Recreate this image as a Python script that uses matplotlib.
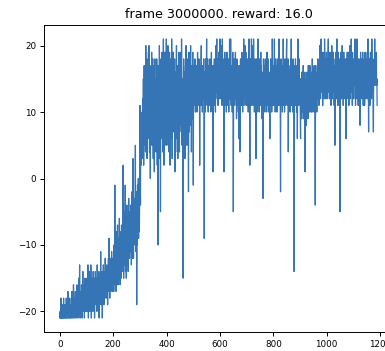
import numpy as np
import matplotlib
matplotlib.use('Agg')
import matplotlib.pyplot as plt

# episode rewards in blocks of 100 episodes
rewards_0 = [
    -21, -20, -21, -21, -18, -21, -19, -21, -20, -21, -21, -19, -20, -21, -18, -21, -21, -20, -19, -21,
    -20, -21, -19, -21, -18, -20, -21, -21, -19, -20, -17, -21, -20, -19, -21, -20, -18, -21, -19, -20,
    -21, -19, -20, -18, -21, -17, -20, -19, -21, -18, -20, -16, -19, -21, -20, -18, -19, -21, -17, -20,
    -19, -18, -21, -20, -16, -19, -18, -20, -21, -17, -19, -15, -20, -18, -13, -19, -21, -18, -17, -20,
    -19, -16, -18, -21, -17, -19, -14, -18, -20, -16, -19, -17, -21, -18, -15, -19, -20, -17, -18, -16]
rewards_100 = [
    -18, -20, -15, -19, -17, -13, -18, -21, -16, -19, -17, -14, -20, -18, -16, -19, -13, -17, -21, -18,
    -15, -19, -17, -16, -20, -14, -18, -17, -19, -15, -21, -16, -18, -14, -17, -19, -15, -18, -16, -20,
    -13, -17, -19, -15, -16, -18, -14, -21, -17, -15, -19, -16, -18, -11, -17, -15, -19, -16, -14, -21,
    -18, -15, -17, -13, -16, -19, -14, -17, -15, -18, -12, -16, -17, -14, -18, -15, -13, -17, -16, -19,
    -14, -15, -12, -17, -9, -16, -14, -18, -13, -15, -17, -12, -14, -16, -11, -15, -17, -13, -14, -12]
rewards_200 = [
    -15, -12, -17, -10, -14, -13, -1, -11, -16, -9, -13, -17, -8, -12, -15, -10, -7, -13, -16, -11,
    -9, -14, -12, -6, -15, -10, -16, -8, -12, -11, -15, -7, -10, -13, -9, -14, -6, 2, -11, -15,
    -8, -10, -5, -13, -9, -1, -14, -7, -11, -15, -8, -4, -10, -13, -6, -9, -14, -7, -3, -12,
    -8, -12, -5, -9, -11, -4, -10, -7, -13, -6, -2, -9, -12, -5, 3, -8, -12, -4, -7, -10,
    -3, -9, -6, 5, -11, -4, -8, -2, -19, -6, -10, -1, -5, -7, 0, -9, -3, -4, -8, -2]
rewards_300 = [
    11, 5, -4, 6, 2, 9, 7, 4, 10, 3, 12, 6, 9, 15, 2, 11, 17, 5, 12, 8,
    15, 4, 20, 13, 7, 12, 18, 3, 16, 10, 6, 13, 19, 8, 20, 12, 4, 14, 11, 0,
    13, 7, 17, 12, 19, 5, 9, 16, 18, 8, 3, 10, 14, 17, 1, 13, 18, 6, 10, 15,
    4, 15, 9, 18, 13, 2, 12, 17, -10, 11, 14, 5, 9, 20, 13, 3, 12, -5, 11, 18,
    13, 6, 14, 19, 17, 4, 8, 13, 21, 10, 2, 16, 11, 19, 5, 13, 12, 19, 7, 21]
rewards_400 = [
    13, 5, 18, 8, 14, 20, 6, 12, 17, 4, 14, 19, 10, 2, 15, 6, 18, 13, 9, 21,
    12, 3, 15, 8, 16, 19, 7, 14, 9, 13, 18, 1, 11, 16, 4, 12, 15, 20, 13, 6,
    14, 17, 3, 16, 12, 9, 19, 13, 4, 14, 17, 8, 10, 19, 14, 7, 21, 11, 5, 15,
    14, 8, -15, 13, 18, 11, 6, 16, 12, 3, 13, 17, 9, 20, 11, 15, 5, 12, 18, 8,
    16, 13, -2, 12, 19, 7, 15, 18, 8, 12, 20, 10, 14, 4, 17, 11, 15, 9, 19, 13]
rewards_500 = [
    -1, 13, 17, 12, 16, 11, 18, 14, 10, 15, 13, 17, 12, 16, 10, 15, 19, 13, 11, 16,
    14, 18, 12, 15, 2, 13, 17, 11, 15, 18, 20, 14, 11, 16, 10, 13, 17, 12, 15, 18,
    14, -9, 12, 16, 13, 10, 18, 15, 12, 17, 21, 14, 11, 16, 18, 13, 10, 15, 17, 12,
    15, 11, 18, 14, 16, 12, 10, 15, 19, 13, 11, 17, 14, 16, 1, 13, 17, 11, 15, 18,
    12, 16, 14, 10, 15, 20, 13, 17, 21, 15, 12, 18, 14, 11, 16, 19, 13, 17, 12, 16]
rewards_600 = [
    21, 14, 18, 12, 16, 20, 13, 15, 11, 21, 16, 12, 18, 14, 10, 1, 16, 13, 19, 15,
    11, 17, 13, 18, 10, 15, 19, 12, 16, 11, 14, 18, 13, 10, 16, 15, 21, 12, 17, 13,
    21, 15, 11, 17, 13, 16, 10, 15, 19, 13, -5, 12, 17, 14, 18, 11, 13, 16, 19, 14,
    12, 16, 9, 14, 18, 15, 11, 17, 13, 10, 15, 6, 13, 17, 11, 4, 15, 18, 12, 16,
    11, 14, 19, 13, 17, 10, 15, 18, 12, 21, 16, 11, 14, 18, 20, 13, 16, 19, 11, 15]
rewards_700 = [
    13, 17, 11, 18, 15, 12, 10, 16, 14, 21, 13, 11, 2, 15, 18, 12, 16, 11, 21, 15,
    17, 12, 18, 20, 11, 15, 21, 13, 17, 10, 14, 18, 12, 16, 11, 3, 15, 18, 13, 10,
    16, 14, 11, 21, 13, 17, 15, 10, 18, 13, 16, 11, 15, 19, 12, 17, 9, 15, 13, 11,
    16, -3, 13, 18, 15, 11, 17, 14, 10, 15, 18, 13, 16, 11, 15, 10, 19, 13, 17, 14,
    11, 18, 13, 10, 16, 15, 12, 6, 15, 13, 18, 11, 16, 14, 10, 13, 21, 15, 11, 17]
rewards_800 = [
    13, 17, 11, 15, 21, 13, 16, 10, 15, 18, 13, 11, 17, 15, 10, 14, 18, 15, 11, 16,
    13, 21, 15, 11, 17, 13, 10, -2, 15, 18, 12, 16, 11, 15, 10, 17, 13, 21, 15, 11,
    16, 13, 10, 15, 18, 12, 17, 11, 15, 19, 21, 13, 16, 14, 11, 18, 4, 13, 17, 15,
    11, 16, 13, 10, 15, 18, 12, 21, 15, 11, 17, 13, 15, 10, 18, 13, 16, 14, -14, 12,
    17, 15, 13, 18, 11, 16, 14, 10, 13, 17, 6, 15, 21, 13, 16, 11, 15, 18, 12, 15]
rewards_900 = [
    14, 10, 6, 15, 12, 14, 9, 16, 12, 15, 10, 14, 17, 9, 15, 12, 14, 10, 16, 1,
    12, 15, 10, 14, 8, 16, 12, 10, 15, 13, 9, 17, 12, 15, 10, 14, 12, 17, 10, 15,
    12, 16, 14, 10, 15, 12, 18, 13, 10, 15, 16, 12, 14, 17, 10, 16, 12, -4, 14, 17,
    12, 15, 13, 10, 16, 15, 12, 18, 13, 16, 14, 11, 17, 13, 20, 15, 16, 12, 18, 21,
    15, 18, 13, 16, 14, 11, 19, 16, 13, 18, 15, 12, 21, 16, 14, 18, 12, 16, 14, 19]
rewards_1000 = [
    15, 18, 12, 16, 14, 19, 21, 16, 13, 18, 12, 16, 19, 14, 17, 15, 11, 18, 14, 20,
    16, 12, 18, 15, 13, 19, 14, 17, 11, 16, 15, 5, 18, 15, 13, 19, 12, 17, 21, 16,
    14, 18, 11, 16, 19, 13, 17, 15, 11, 18, -5, 16, 13, 19, 12, 17, 15, 12, 20, 16,
    14, 18, 11, 16, 19, 13, 17, 15, 12, 14, 18, 16, 6, 14, 18, 16, 12, 19, 14, 17,
    16, 13, 19, 11, 17, 16, 13, 20, 15, 12, 18, 14, 21, 16, 13, 19, 11, 17, 15, 13]
rewards_1100 = [
    16, 12, 18, 14, 19, 16, 21, 14, 11, 18, 16, 13, 19, 12, 21, 16, 14, 18, 11, 16,
    14, 18, 12, 16, 15, 8, 16, 19, 14, 18, 16, 12, 18, 14, 16, 19, 13, 11, 17, 16,
    14, 18, 11, 16, 19, 13, 18, 15, 12, 17, 14, 16, 19, 12, 16, 21, 14, 7, 16, 18,
    13, 18, 11, 16, 19, 14, 17, 15, 12, 21, 16, 13, 18, 16, 12, 7, 16, 14, 18, 16,
    21, 14, 18, 15, 17, 16, 19, 14, 15, 11]

all_rewards = (rewards_0 + rewards_100 + rewards_200 + rewards_300 + rewards_400
               + rewards_500 + rewards_600 + rewards_700 + rewards_800 + rewards_900
               + rewards_1000 + rewards_1100)
frame_idx = 3000000

fig = plt.figure(figsize=(3.85, 3.51), dpi=100)
# the original was one panel of a wider figure, so the right edge is cut off
ax = fig.add_axes([44 / 385, 19 / 351, 349 / 385, 307 / 351])
ax.plot(all_rewards, color='#3575b5', linewidth=0.9)
ax.set_title('frame %s. reward: %s' % (frame_idx, np.mean(all_rewards[-10:])), fontsize=9.2, pad=5)
ax.set_yticks([-20, -10, 0, 10, 20])
ax.set_xticks([0, 200, 400, 600, 800, 1000, 1200])
ax.tick_params(labelsize=6.3, length=3, width=0.7, pad=2.5)
for s in ax.spines.values():
    s.set_linewidth(0.7)

fig.savefig('out.png', dpi=100)
